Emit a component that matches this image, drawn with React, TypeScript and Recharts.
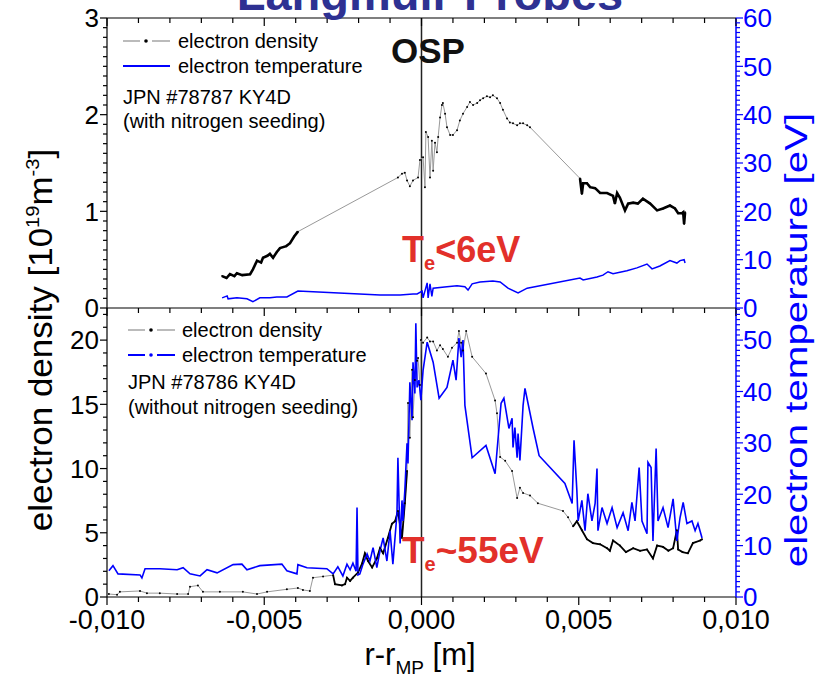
import React from 'react';
import { ComposedChart, Line, XAxis, YAxis, ReferenceLine } from 'recharts';

const FONT = '"Liberation Sans", Arial, Helvetica, sans-serif';
const BLUE = '#0000ff';
const RED = '#e2302a';
const NAVY = '#2e3192';

// ---------- axes (x in metres) ----------
const xMajorTicks = [-0.01, -0.005, 0, 0.005, 0.01];
const xTickLabels = ['-0,010', '-0,005', '0,000', '0,005', '0,010'];
const xMinorStep = 0.001;

const topNeMajor = [0, 1, 2, 3];
const topTeMajor = [0, 10, 20, 30, 40, 50, 60];
const botNeMajor = [0, 5, 10, 15, 20];
const botTeMajor = [0, 10, 20, 30, 40, 50];

// ---------- top panel: JPN #78787 (with N seeding) ----------
// electron density [1e19 m^-3], densely sampled segments
const topNeLeft: [number, number][] = [
  [-0.00634, 0.33], [-0.00620, 0.31], [-0.00609, 0.35], [-0.00595, 0.33], [-0.00587, 0.36],
  [-0.00570, 0.34], [-0.00545, 0.35], [-0.00536, 0.40], [-0.00523, 0.49], [-0.00510, 0.47],
  [-0.00504, 0.52], [-0.00490, 0.54], [-0.00482, 0.56], [-0.00472, 0.52], [-0.00460, 0.58],
  [-0.00450, 0.62], [-0.00430, 0.64], [-0.00418, 0.67], [-0.00405, 0.74], [-0.00393, 0.79],
];
const topNeMid: [number, number][] = [
  [-0.00075, 1.35], [-0.00062, 1.39], [-0.00053, 1.40], [-0.00046, 1.32], [-0.00037, 1.26],
  [-0.00027, 1.32], [-0.00011, 1.35], [-0.00005, 1.53], [0.00005, 1.56], [0.00011, 1.25],
  [0.00014, 1.82], [0.00021, 1.77], [0.00027, 1.35], [0.00033, 1.73], [0.00037, 1.42],
  [0.00043, 1.71], [0.00049, 1.61], [0.00053, 1.77], [0.00059, 1.97], [0.00065, 2.10],
  [0.00068, 2.12], [0.00075, 2.01], [0.00081, 1.87], [0.00091, 1.79], [0.00100, 1.79],
  [0.00113, 1.84], [0.00122, 1.94], [0.00132, 2.01], [0.00145, 2.08], [0.00154, 2.13],
  [0.00164, 2.10], [0.00177, 2.12], [0.00186, 2.15], [0.00196, 2.17], [0.00208, 2.19],
  [0.00218, 2.18], [0.00227, 2.20], [0.00240, 2.17], [0.00250, 2.12], [0.00259, 2.05],
  [0.00272, 1.96], [0.00281, 1.92], [0.00291, 1.91], [0.00304, 1.89], [0.00313, 1.91],
  [0.00323, 1.91], [0.00336, 1.89], [0.00345, 1.87],
];
const topNeRight: [number, number][] = [
  [0.00504, 1.34], [0.00510, 1.18], [0.00514, 1.29], [0.00526, 1.29], [0.00536, 1.25],
  [0.00552, 1.24], [0.00568, 1.19], [0.00590, 1.19], [0.00609, 1.16], [0.00615, 1.08],
  [0.00622, 1.19], [0.00631, 1.14], [0.00647, 1.01], [0.00657, 1.08], [0.00673, 1.09],
  [0.00688, 1.08], [0.00704, 1.13], [0.00727, 1.08], [0.00749, 1.01], [0.00768, 1.03],
  [0.00790, 1.06], [0.00806, 1.03], [0.00816, 0.98], [0.00828, 0.98], [0.00832, 0.99],
  [0.00835, 0.87], [0.00838, 0.99],
];
// electron temperature [eV]
const topTe: [number, number][] = [
  [-0.00634, 2.1], [-0.00618, 2.5], [-0.00615, 1.9], [-0.00587, 2.1], [-0.00555, 1.9],
  [-0.00536, 1.3], [-0.00514, 2.1], [-0.00482, 2.1], [-0.00460, 2.3], [-0.00428, 2.3],
  [-0.00393, 3.5], [-0.00132, 2.7], [-0.00068, 2.7], [-0.00027, 2.9], [-0.00014, 2.9],
  [0.00002, 3.5], [0.00005, 2.1], [0.00018, 5.2], [0.00021, 2.1], [0.00027, 5.0],
  [0.00033, 2.4], [0.00037, 4.1], [0.00081, 4.4], [0.00113, 4.6], [0.00138, 4.4],
  [0.00148, 3.7], [0.00161, 5.0], [0.00186, 5.4], [0.00227, 5.6], [0.00250, 5.4],
  [0.00275, 4.1], [0.00307, 3.1], [0.00336, 4.1], [0.00504, 6.2], [0.00514, 5.8],
  [0.00558, 6.4], [0.00577, 6.8], [0.00593, 7.5], [0.00609, 7.1], [0.00653, 7.7],
  [0.00685, 8.3], [0.00717, 9.1], [0.00733, 8.1], [0.00758, 8.7], [0.00790, 9.8],
  [0.00812, 9.3], [0.00822, 9.8], [0.00835, 10.0], [0.00838, 9.3],
];

// ---------- bottom panel: JPN #78786 (without N seeding) ----------
const botNeSparse1: [number, number][] = [
  [-0.00994, 0.23], [-0.00968, 0.18], [-0.00959, 0.40], [-0.00895, 0.47], [-0.00873, 0.30],
  [-0.00832, 0.30], [-0.00777, 0.23], [-0.00742, 0.23], [-0.00736, 0.80], [-0.00711, 0.90],
  [-0.00695, 0.40], [-0.00641, 0.40], [-0.00568, 0.40], [-0.00523, 0.23], [-0.00491, 0.40],
  [-0.00428, 0.60], [-0.00393, 0.70], [-0.00377, 0.55], [-0.00355, 0.47], [-0.00345, 1.50],
  [-0.00313, 1.60], [-0.00281, 1.70],
];
const botNeDense1: [number, number][] = [
  [-0.00281, 1.70], [-0.00275, 1.00], [-0.00253, 0.90], [-0.00243, 1.00], [-0.00237, 1.50],
  [-0.00227, 1.25], [-0.00218, 1.50], [-0.00202, 1.90], [-0.00189, 2.60], [-0.00180, 3.40],
  [-0.00170, 2.80], [-0.00157, 2.30], [-0.00142, 3.00], [-0.00132, 3.80], [-0.00122, 3.40],
  [-0.00107, 4.60], [-0.00094, 5.70], [-0.00084, 5.90], [-0.00075, 6.70], [-0.00062, 4.60],
  [-0.00053, 7.30], [-0.00046, 9.80],
];
const botNeSparse2: [number, number][] = [
  [-0.00046, 9.80], [-0.00043, 15.1], [-0.00037, 12.4], [-0.00030, 17.7], [-0.00027, 14.0],
  [-0.00021, 16.9], [-0.00014, 18.4], [-0.00011, 18.6], [-0.00005, 16.5], [-0.00002, 20.0],
  [0.00005, 19.8], [0.00018, 20.2], [0.00027, 19.9], [0.00037, 19.9], [0.00049, 19.2],
  [0.00059, 19.6], [0.00068, 19.3], [0.00084, 18.7], [0.00097, 19.4], [0.00113, 19.8],
  [0.00119, 20.7], [0.00126, 19.8], [0.00132, 19.2], [0.00142, 20.7], [0.00161, 18.7],
  [0.00205, 17.4], [0.00234, 15.3], [0.00240, 14.3], [0.00250, 10.9], [0.00266, 10.6],
  [0.00288, 9.8], [0.00304, 7.7], [0.00313, 8.5], [0.00323, 8.1], [0.00345, 7.9],
  [0.00370, 7.3], [0.00450, 6.7], [0.00466, 6.2], [0.00482, 5.5],
];
const botNeDense2: [number, number][] = [
  [0.00482, 5.5], [0.00494, 5.9], [0.00510, 5.2], [0.00526, 4.5], [0.00545, 4.2],
  [0.00568, 4.1], [0.00590, 3.8], [0.00599, 3.6], [0.00609, 4.4], [0.00631, 4.0],
  [0.00650, 3.5], [0.00673, 3.8], [0.00695, 3.6], [0.00717, 3.7], [0.00736, 3.0],
  [0.00749, 4.0], [0.00768, 3.9], [0.00785, 3.6], [0.00800, 3.8], [0.00812, 5.2],
  [0.00816, 3.7], [0.00830, 3.5], [0.00847, 3.4], [0.00863, 4.2], [0.00886, 4.4],
  [0.00892, 4.5],
];
const botTe: [number, number][] = [
  [-0.00994, 5.1], [-0.00981, 6.1], [-0.00965, 4.5], [-0.00895, 4.3], [-0.00889, 3.7],
  [-0.00879, 5.5], [-0.00832, 5.5], [-0.00777, 5.3], [-0.00758, 5.7], [-0.00736, 4.5],
  [-0.00704, 4.1], [-0.00682, 5.3], [-0.00650, 4.7], [-0.00599, 6.3], [-0.00571, 6.4],
  [-0.00555, 5.3], [-0.00514, 6.1], [-0.00444, 6.4], [-0.00428, 5.1], [-0.00396, 4.5],
  [-0.00393, 6.3], [-0.00364, 5.7], [-0.00301, 5.5], [-0.00281, 4.5], [-0.00266, 5.9],
  [-0.00250, 4.1], [-0.00237, 6.4], [-0.00227, 5.3], [-0.00218, 6.6], [-0.00208, 5.0],
  [-0.00205, 17.4], [-0.00202, 4.3], [-0.00196, 4.5], [-0.00186, 6.4], [-0.00173, 8.4],
  [-0.00164, 7.0], [-0.00154, 9.6], [-0.00142, 5.7], [-0.00132, 9.0], [-0.00122, 11.5],
  [-0.00110, 7.0], [-0.00100, 12.9], [-0.00091, 6.4], [-0.00078, 16.2], [-0.00075, 27.1],
  [-0.00068, 10.4], [-0.00062, 18.8], [-0.00059, 14.8], [-0.00053, 20.7], [-0.00046, 29.9],
  [-0.00043, 26.0], [-0.00037, 41.8], [-0.00030, 34.4], [-0.00027, 45.7], [-0.00021, 39.6],
  [-0.00018, 53.3], [-0.00014, 40.8], [-0.00008, 42.2], [-0.00002, 38.3], [0.00005, 44.1],
  [0.00018, 49.6], [0.00037, 45.7], [0.00056, 38.7], [0.00081, 40.8], [0.00100, 46.1],
  [0.00110, 42.2], [0.00119, 50.4], [0.00126, 46.7], [0.00132, 50.0], [0.00138, 37.3],
  [0.00161, 27.1], [0.00205, 29.5], [0.00234, 24.0], [0.00253, 37.7], [0.00262, 38.7],
  [0.00278, 32.8], [0.00288, 34.8], [0.00291, 29.1], [0.00297, 33.0], [0.00304, 27.1],
  [0.00307, 31.8], [0.00313, 26.6], [0.00323, 37.3], [0.00329, 40.6], [0.00355, 32.8],
  [0.00374, 27.5], [0.00456, 22.1], [0.00479, 18.2], [0.00485, 30.5], [0.00494, 20.7],
  [0.00498, 14.8], [0.00510, 18.8], [0.00520, 12.9], [0.00529, 20.1], [0.00542, 14.8],
  [0.00552, 18.2], [0.00558, 25.0], [0.00561, 12.9], [0.00574, 17.4], [0.00590, 14.3],
  [0.00606, 17.4], [0.00622, 13.5], [0.00641, 16.4], [0.00657, 12.9], [0.00669, 18.4],
  [0.00679, 14.8], [0.00692, 25.2], [0.00701, 14.8], [0.00717, 12.3], [0.00720, 26.2],
  [0.00730, 25.2], [0.00736, 10.9], [0.00746, 28.9], [0.00752, 14.8], [0.00768, 17.4],
  [0.00784, 13.5], [0.00800, 19.1], [0.00812, 10.9], [0.00822, 15.4], [0.00832, 18.4],
  [0.00844, 14.3], [0.00860, 14.8], [0.00870, 12.9], [0.00879, 14.3], [0.00892, 11.5],
];

// ---------- helpers ----------
const pts = (arr: [number, number][]) => arr.map(([x, y]) => ({ x, y }));
const range = (from: number, to: number, step: number) => {
  const n = Math.round((to - from) / step);
  const out: number[] = [];
  for (let i = 0; i <= n; i++) out.push(+(from + i * step).toFixed(6));
  return out;
};
const isMajor = (v: number, majors: number[]) => majors.some((m) => Math.abs(m - v) < 1e-9);

const xTicksAll = range(-0.01, 0.01, xMinorStep);
const topNeAll = pts([...topNeLeft, ...topNeMid, ...topNeRight]);
const botNeAll = pts([...botNeSparse1, ...botNeDense1.slice(1), ...botNeSparse2.slice(1), ...botNeDense2.slice(1)]);

const W = 828;
const H = 679;
const PLOT_L = 107;
const PLOT_R = 736;
const Y_TOP = 18;
const Y_MID = 308;
const Y_BOT = 597;

const XTick = (props: any) => {
  const { x, y, payload, labels } = props;
  const v = payload.value;
  const mi = xMajorTicks.findIndex((m) => Math.abs(m - v) < 1e-9);
  const major = mi >= 0;
  return (
    <g>
      <line x1={x} x2={x} y1={y} y2={y + (major ? 8 : 5)} stroke="#000" strokeWidth={1.2} />
      {labels && major && (
        <text x={x} y={y + 32} textAnchor="middle" fontSize={27} fontFamily={FONT} fill="#000">
          {xTickLabels[mi]}
        </text>
      )}
    </g>
  );
};

const LeftTick = (props: any) => {
  const { x, y, payload, majors } = props;
  const v = payload.value;
  const major = isMajor(v, majors);
  return (
    <g>
      <line x1={x - (major ? 7 : 4)} x2={x} y1={y} y2={y} stroke="#000" strokeWidth={1.2} />
      {major && (
        <text x={x - 8} y={y} dy="0.36em" textAnchor="end" fontSize={26} fontFamily={FONT} fill="#000">
          {String(Math.round(v))}
        </text>
      )}
    </g>
  );
};

const RightTick = (props: any) => {
  const { x, y, payload, majors } = props;
  const v = payload.value;
  const major = isMajor(v, majors);
  return (
    <g>
      <line x1={x} x2={x + (major ? 7 : 4)} y1={y} y2={y} stroke={BLUE} strokeWidth={1.2} />
      {major && (
        <text x={x + 7} y={y} dy="0.36em" textAnchor="start" fontSize={26} fontFamily={FONT} fill={BLUE}>
          {String(Math.round(v))}
        </text>
      )}
    </g>
  );
};

const Overlay = () => (
  <svg width={W} height={H} style={{ position: 'absolute', left: 0, top: 0, pointerEvents: 'none' }}>
    {/* title (cut off at the top, as in the source figure) */}
    <text x={430} y={10} textAnchor="middle" fontSize={47} fontWeight="bold" fontFamily={FONT} fill={NAVY}>
      Langmuir Probes
    </text>

    {/* top legend */}
    <g fontFamily={FONT} fontSize={20} fill="#000">
      <line x1={123} x2={140} y1={41} y2={41} stroke="#aaa" strokeWidth={1.6} />
      <line x1={152} x2={170} y1={41} y2={41} stroke="#aaa" strokeWidth={1.6} />
      <circle cx={146} cy={41} r={1.8} fill="#000" />
      <text x={178} y={41} dy="0.35em">electron density</text>
      <line x1={123} x2={170} y1={66} y2={66} stroke={BLUE} strokeWidth={2} />
      <text x={178} y={66} dy="0.35em">electron temperature</text>
      <text x={123} y={97} dy="0.35em">JPN #78787 KY4D</text>
      <text x={123} y={121} dy="0.35em">(with nitrogen seeding)</text>
    </g>

    {/* bottom legend */}
    <g fontFamily={FONT} fontSize={20} fill="#000">
      <line x1={128} x2={145} y1={330} y2={330} stroke="#aaa" strokeWidth={1.6} />
      <line x1={157} x2={175} y1={330} y2={330} stroke="#aaa" strokeWidth={1.6} />
      <circle cx={151} cy={330} r={1.8} fill="#000" />
      <text x={182} y={330} dy="0.35em">electron density</text>
      <line x1={128} x2={145} y1={355} y2={355} stroke={BLUE} strokeWidth={2} />
      <line x1={157} x2={175} y1={355} y2={355} stroke={BLUE} strokeWidth={2} />
      <circle cx={151} cy={355} r={1.8} fill={BLUE} />
      <text x={182} y={355} dy="0.35em">electron temperature</text>
      <text x={128} y={382} dy="0.35em">JPN #78786 KY4D</text>
      <text x={128} y={407} dy="0.35em">(without nitrogen seeding)</text>
    </g>

    {/* annotations */}
    <text x={391} y={63} fontSize={35} fontWeight="bold" fontFamily={FONT} fill="#111">OSP</text>
    <text x={402} y={262} fontSize={36} fontWeight="bold" fontFamily={FONT} fill={RED}>
      T<tspan fontSize={20} dy={8}>e</tspan><tspan dy={-8}>&lt;6eV</tspan>
    </text>
    <text x={402} y={563} fontSize={37} fontWeight="bold" fontFamily={FONT} fill={RED}>
      T<tspan fontSize={20} dy={8}>e</tspan><tspan dy={-8}>~55eV</tspan>
    </text>

    {/* axis titles (source figure is stretched vertically) */}
    <text transform="translate(52,340) rotate(-90) scale(1.06,1)" textAnchor="middle" fontSize={33} fontFamily={FONT} fill="#000">
      electron density [10<tspan fontSize={19} dy={-13}>19</tspan><tspan dy={13}>m</tspan><tspan fontSize={19} dy={-13}>-3</tspan><tspan dy={13}>]</tspan>
    </text>
    <text transform="translate(807,340) rotate(-90) scale(1.3,1)" textAnchor="middle" fontSize={31} fontFamily={FONT} fill={BLUE}>
      electron temperature [eV]
    </text>
    <text x={420} y={665} textAnchor="middle" fontSize={31} fontFamily={FONT} fill="#000">
      r-r<tspan fontSize={19} dy={9}>MP</tspan><tspan dy={-9}> [m]</tspan>
    </text>
  </svg>
);

export default function App() {
  return (
    <div style={{ position: 'absolute', left: 0, top: 0, width: W, height: H, background: '#fff', fontFamily: FONT }}>
      {/* top panel */}
      <div style={{ position: 'absolute', left: 0, top: 0 }}>
        <ComposedChart width={W} height={330} margin={{ top: Y_TOP - 1, right: W - PLOT_R - 50, bottom: 330 - Y_MID, left: PLOT_L - 50 }}>
          <XAxis
            type="number" dataKey="x" orientation="top" domain={[-0.01, 0.01]} allowDataOverflow
            ticks={xTicksAll} interval={0} height={1} tickSize={0} tickMargin={0} tickLine={false}
            axisLine={{ stroke: '#000', strokeWidth: 1.2 }}
            tick={(p: any) => <XTick {...p} labels={false} />}
          />
          <YAxis
            yAxisId="ne" type="number" domain={[0, 3]} allowDataOverflow ticks={range(0, 3, 0.1)} interval={0}
            width={50} tickSize={0} tickMargin={0} tickLine={false} axisLine={{ stroke: '#000', strokeWidth: 1.2 }}
            tick={(p: any) => <LeftTick {...p} majors={topNeMajor} />}
          />
          <YAxis
            yAxisId="te" orientation="right" type="number" domain={[0, 60]} allowDataOverflow ticks={range(0, 60, 1)} interval={0}
            width={50} tickSize={0} tickMargin={0} tickLine={false} axisLine={{ stroke: BLUE, strokeWidth: 1.5 }}
            tick={(p: any) => <RightTick {...p} majors={topTeMajor} />}
          />
          <ReferenceLine x={0} yAxisId="ne" stroke="#222" strokeWidth={1.5} />
          <Line yAxisId="ne" data={topNeAll} dataKey="y" type="linear" stroke="#999" strokeWidth={1}
            dot={{ r: 1, fill: '#000', stroke: 'none' }} isAnimationActive={false} />
          <Line yAxisId="ne" data={pts(topNeLeft)} dataKey="y" type="linear" stroke="#000" strokeWidth={2.6} dot={false} isAnimationActive={false} />
          <Line yAxisId="ne" data={pts(topNeRight)} dataKey="y" type="linear" stroke="#000" strokeWidth={2.6} dot={false} isAnimationActive={false} />
          <Line yAxisId="te" data={pts(topTe)} dataKey="y" type="linear" stroke={BLUE} strokeWidth={1.5} dot={false} isAnimationActive={false} />
        </ComposedChart>
      </div>

      {/* bottom panel */}
      <div style={{ position: 'absolute', left: 0, top: 0 }}>
        <ComposedChart width={W} height={H} margin={{ top: Y_MID - 1, right: W - PLOT_R - 50, bottom: H - Y_BOT - 1, left: PLOT_L - 50 }}>
          <XAxis
            type="number" dataKey="x" orientation="bottom" domain={[-0.01, 0.01]} allowDataOverflow
            ticks={xTicksAll} interval={0} height={1} tickSize={0} tickMargin={0} tickLine={false}
            axisLine={{ stroke: '#000', strokeWidth: 1.2 }}
            tick={(p: any) => <XTick {...p} labels={true} />}
          />
          <XAxis
            xAxisId="top" type="number" dataKey="x" orientation="top" domain={[-0.01, 0.01]} allowDataOverflow
            ticks={xTicksAll} interval={0} height={1} tickSize={0} tickMargin={0} tickLine={false}
            axisLine={{ stroke: '#000', strokeWidth: 1.2 }}
            tick={(p: any) => <XTick {...p} labels={false} />}
          />
          <YAxis
            yAxisId="ne" type="number" domain={[0, 22.5]} allowDataOverflow ticks={range(0, 22, 1)} interval={0}
            width={50} tickSize={0} tickMargin={0} tickLine={false} axisLine={{ stroke: '#000', strokeWidth: 1.2 }}
            tick={(p: any) => <LeftTick {...p} majors={botNeMajor} />}
          />
          <YAxis
            yAxisId="te" orientation="right" type="number" domain={[0, 56.25]} allowDataOverflow ticks={range(0, 56, 1)} interval={0}
            width={50} tickSize={0} tickMargin={0} tickLine={false} axisLine={{ stroke: BLUE, strokeWidth: 1.5 }}
            tick={(p: any) => <RightTick {...p} majors={botTeMajor} />}
          />
          <ReferenceLine x={0} yAxisId="ne" stroke="#222" strokeWidth={1.5} />
          <Line yAxisId="ne" data={botNeAll} dataKey="y" type="linear" stroke="#999" strokeWidth={1}
            dot={{ r: 1, fill: '#000', stroke: 'none' }} isAnimationActive={false} />
          <Line yAxisId="ne" data={pts(botNeDense1)} dataKey="y" type="linear" stroke="#000" strokeWidth={1.8} dot={false} isAnimationActive={false} />
          <Line yAxisId="ne" data={pts(botNeDense2)} dataKey="y" type="linear" stroke="#000" strokeWidth={1.8} dot={false} isAnimationActive={false} />
          <Line yAxisId="te" data={pts(botTe)} dataKey="y" type="linear" stroke={BLUE} strokeWidth={1.6} dot={false} isAnimationActive={false} />
        </ComposedChart>
      </div>

      <Overlay />
    </div>
  );
}
